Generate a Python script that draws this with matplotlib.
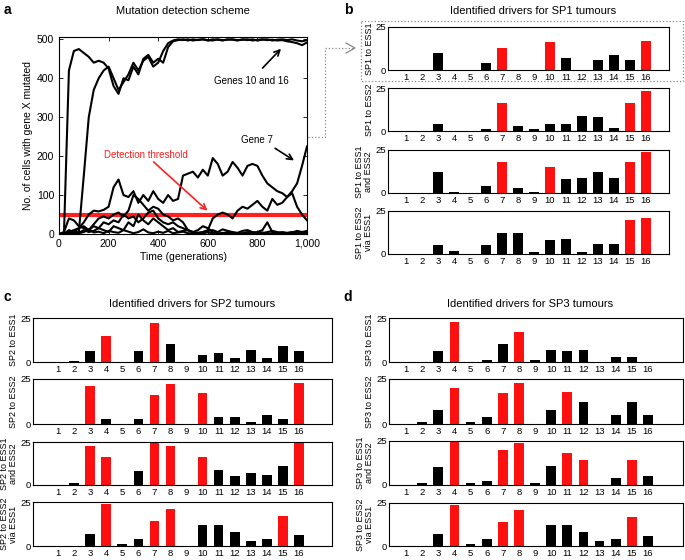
import matplotlib
matplotlib.use("Agg")
import matplotlib.pyplot as plt
from matplotlib.lines import Line2D

plt.rcParams['font.family'] = ['Liberation Sans', 'DejaVu Sans']

W, H = 685, 560

# ---- panel a data (every 20 generations) ----
time = list(range(0, 1001, 20))
gene_a = [0, 0, 420, 470, 475, 465, 455, 440, 445, 440, 425, 380, 360, 400, 395, 430, 410, 450,
          460, 440, 450, 440, 480, 495, 498, 500, 497, 500, 498, 500, 497, 500, 499, 497, 500, 499,
          497, 500, 498, 500, 497, 499, 500, 497, 499, 500, 498, 500, 497, 495, 498]
gene_b = [0, 0, 0, 0, 5, 150, 300, 370, 400, 420, 430, 400, 370, 390, 410, 440, 420, 445,
          455, 430, 440, 470, 490, 497, 500, 498, 500, 497, 499, 500, 498, 497, 500, 498, 499, 500,
          498, 499, 500, 497, 499, 500, 498, 499, 497, 498, 495, 493, 490, 485, 492]
gene_7 = [0, 2, 5, 10, 15, 30, 50, 60, 58, 62, 70, 120, 140, 100, 95, 110, 80, 100,
          85, 110, 90, 80, 100, 85, 90, 150, 155, 160, 145, 165, 150, 195, 180, 150, 160, 185,
          170, 150, 175, 180, 175, 150, 130, 120, 110, 105, 95, 110, 130, 175, 225]
gene_c = [0, 5, 40, 35, 20, 15, 10, 25, 40, 45, 40, 50, 55, 45, 60, 100, 90, 75,
          60, 70, 65, 50, 45, 35, 40, 30, 10, 5, 3, 5, 10, 40, 50, 55, 50, 40,
          60, 70, 65, 75, 85, 70, 60, 90, 75, 80, 95, 105, 70, 50, 35]
gene_d = [0, 0, 10, 5, 15, 20, 10, 20, 15, 30, 25, 35, 30, 50, 40, 45, 30, 40,
          55, 60, 40, 30, 25, 30, 20, 15, 10, 5, 10, 20, 15, 5, 0, 2, 5, 3,
          0, 2, 5, 3, 5, 10, 30, 5, 2, 5, 3, 5, 2, 5, 8]
gene_e = [0, 0, 2, 5, 3, 10, 5, 8, 15, 10, 5, 20, 15, 10, 30, 20, 50, 35,
          25, 40, 30, 20, 10, 15, 5, 8, 10, 3, 2, 5, 8, 10, 5, 12, 8, 5,
          3, 8, 10, 5, 3, 2, 5, 8, 5, 3, 2, 4, 8, 5, 3]
gene_f = [0, 0, 3, 8, 2, 5, 12, 4, 6, 2, 8, 5, 3, 10, 6, 2, 5, 12,
          4, 2, 6, 3, 8, 2, 4, 6, 2, 1, 3, 2, 4, 2, 1, 3, 2, 0,
          2, 1, 3, 1, 2, 4, 1, 2, 3, 1, 2, 3, 1, 2, 4]
threshold = 50

# ---- bar panels ----
genes = list(range(1, 17))
sp1_rows = ["SP1 to ESS1", "SP1 to ESS2", "SP1 to ESS1\nand ESS2", "SP1 to ESS2\nvia ESS1"]
sp1_vals = [[0, 0, 10, 0, 0, 4, 13, 0, 0, 16, 7, 0, 6, 9, 6, 17],
            [0, 0, 4, 0, 0, 1, 16, 3, 1, 4, 4, 9, 8, 2, 16, 23],
            [0, 0, 12, 0.5, 0, 4, 18, 3, 0.5, 15, 8, 9, 12, 9, 18, 24],
            [0, 0, 5, 2, 0, 5, 12, 12, 1, 8, 9, 1, 6, 6, 20, 21]]
sp1_red = [[7, 10, 16], [7, 15, 16], [7, 10, 15, 16], [15, 16]]

sp2_rows = ["SP2 to ESS1", "SP2 to ESS2", "SP2 to ESS1\nand ESS2", "SP2 to ESS2\nvia ESS1"]
sp2_vals = [[0, 0.5, 6, 15, 0, 6, 22, 10, 0, 4, 5, 2, 7, 2, 9, 6],
            [0, 0, 21, 3, 0, 3, 16, 22, 0, 17, 4, 4, 1, 5, 3, 23],
            [0, 1, 22.5, 16, 0, 8, 27, 22.5, 0, 16, 9, 5, 7, 6, 11, 27],
            [0, 0, 7, 24, 1, 4, 14, 21, 0, 12, 12, 8, 3, 4, 17, 6]]
sp2_red = [[4, 7], [3, 7, 8, 10, 16], [3, 4, 7, 8, 10, 16], [4, 7, 8, 15]]

sp3_rows = ["SP3 to ESS1", "SP3 to ESS2", "SP3 to ESS1\nand ESS2", "SP3 to ESS2\nvia ESS1"]
sp3_vals = [[0, 0, 6, 23, 0, 1, 10, 17, 1, 7, 6, 7, 0, 3, 3, 0],
            [0, 1, 8, 20, 1, 4, 17, 23, 0, 8, 18, 12, 0, 5, 12, 5],
            [0, 1, 10, 25, 1, 2, 20, 24, 1, 11, 18, 14, 0, 4, 14, 5],
            [0, 0, 7, 24, 1, 4, 14, 21, 0, 12, 12, 8, 3, 4, 17, 6]]
sp3_red = [[4, 8], [4, 7, 8, 11], [4, 7, 8, 11, 12, 15], [4, 7, 8, 15]]

fig = plt.figure(figsize=(W / 100, H / 100), dpi=100)


def px_axes(l, t, r, b):
    return fig.add_axes([l / W, 1 - b / H, (r - l) / W, (b - t) / H])


# ---- panel a ----
ax = px_axes(59, 37, 307, 234)
for ys in [gene_f, gene_e, gene_d, gene_c, gene_b, gene_a, gene_7]:
    ax.plot(time, ys, color='black', lw=1.5)
ax.axhline(threshold, color='#ff2020', lw=3, zorder=1)
ax.set_xlim(0, 1000)
ax.set_ylim(0, 506)
ax.set_xticks([0, 200, 400, 600, 800, 1000])
ax.set_xticklabels(['0', '200', '400', '600', '800', '1,000'])
ax.set_yticks([0, 100, 200, 300, 400, 500])
ax.tick_params(direction='in', length=3, labelsize=7.5, top=True, right=True, width=0.6)
ax.set_xlabel('Time (generations)', fontsize=7.5, labelpad=2)
ax.set_ylabel('No. of cells with gene X mutated', fontsize=7.5, labelpad=3)
ax.annotate('', xy=(607, 55), xytext=(373, 190),
            arrowprops=dict(arrowstyle='->', color='#ff2020', lw=1.2))
ax.text(350, 203, 'Detection threshold', color='#ff2020', fontsize=7, ha='center', va='center')
ax.annotate('', xy=(903, 481), xytext=(813, 421),
            arrowprops=dict(arrowstyle='->', color='black', lw=1.2))
ax.text(775, 393, 'Genes 10 and 16', fontsize=7, ha='center', va='center')
ax.annotate('', xy=(957, 185), xytext=(862, 224),
            arrowprops=dict(arrowstyle='->', color='black', lw=1.2))
ax.text(800, 242, 'Gene 7', fontsize=7, ha='center', va='center')


def bar_panel(left, right, tops, bottoms, tick1, tick16, rows, vals, reds):
    unit = (tick16 - tick1) / 15
    lo = 1 - (tick1 - left) / unit
    hi = 16 + (right - tick16) / unit
    for t, b, name, v, red in zip(tops, bottoms, rows, vals, reds):
        bx = px_axes(left, t, right, b)
        colors = ['#ff1010' if g in red else 'black' for g in genes]
        bx.bar(genes, v, width=0.6, color=colors)
        bx.set_xlim(lo, hi)
        bx.set_ylim(0, 25)
        bx.set_xticks(genes)
        bx.set_yticks([0, 25])
        bx.tick_params(length=0, labelsize=6.8, pad=2)
        bx.tick_params(axis='y', pad=1.5)
        bx.set_ylabel(name, fontsize=6.5, linespacing=0.9, va='center', ha='center')
        lab_x = left - (24 if '\n' in name else 19)
        bx.yaxis.set_label_coords(lab_x / W, 1 - (t + b) / 2 / H, transform=fig.transFigure)
        for s in bx.spines.values():
            s.set_linewidth(0.8)


bar_panel(388, 669, [27, 88, 150, 211], [70, 131, 193, 254], 406, 646, sp1_rows, sp1_vals, sp1_red)
bar_panel(33, 332, [318, 379, 442, 502], [362, 424, 485, 546], 58, 299, sp2_rows, sp2_vals, sp2_red)
bar_panel(389, 683, [318, 379, 441, 503], [362, 424, 485, 546], 406, 648, sp3_rows, sp3_vals, sp3_red)

# titles and panel letters
fig.text(183 / W, 1 - 11 / H, 'Mutation detection scheme', fontsize=8, ha='center', va='center')
fig.text(533 / W, 1 - 11 / H, 'Identified drivers for SP1 tumours', fontsize=8, ha='center', va='center')
fig.text(192 / W, 1 - 304 / H, 'Identified drivers for SP2 tumours', fontsize=8, ha='center', va='center')
fig.text(530 / W, 1 - 304 / H, 'Identified drivers for SP3 tumours', fontsize=8, ha='center', va='center')
for lx, ly, s in [(4, 10, 'a'), (344, 10, 'b'), (4, 297, 'c'), (343, 297, 'd')]:
    fig.text(lx / W, 1 - ly / H, s, fontsize=10, fontweight='bold', ha='left', va='center')


# dotted connector from panel a to the first SP1 plot
def fig_line(xs, ys, **kw):
    fig.add_artist(Line2D([x / W for x in xs], [1 - y / H for y in ys],
                          transform=fig.transFigure, **kw))


grey = '#888888'
fig_line([308, 325, 325, 354], [137, 137, 48, 48], color=grey, lw=0.9, ls=':')
fig_line([346, 355, 346], [43, 48, 53], color=grey, lw=0.9)
fig_line([361, 683, 683, 361, 361], [21, 21, 81, 81, 21], color=grey, lw=0.9, ls=':')

fig.savefig('out.png', dpi=100)
